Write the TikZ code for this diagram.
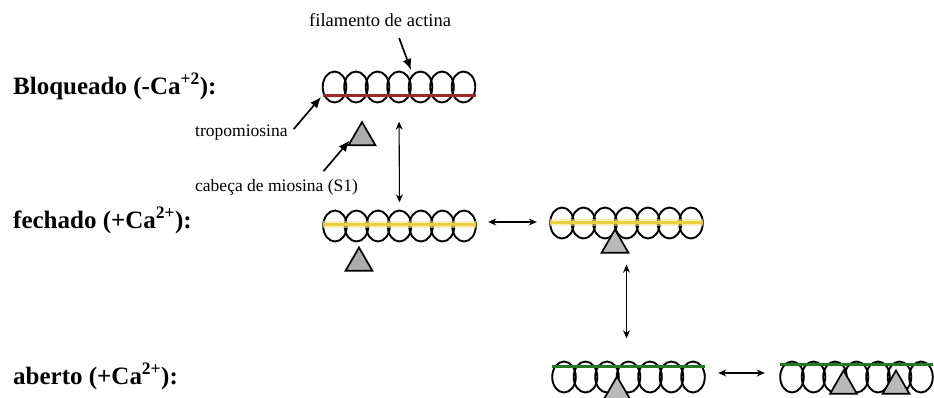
\documentclass[tikz,border=0pt]{standalone}
\usepackage{fontspec}
\setmainfont{Liberation Serif}
\usepackage{tikz}
\usetikzlibrary{shapes.geometric,arrows.meta}
\definecolor{tmred}{RGB}{156,40,40}
\definecolor{tmyellow}{RGB}{234,208,62}
\definecolor{tmgreen}{RGB}{36,122,36}

\begin{document}
\begin{tikzpicture}[x=1pt, y=-1pt,
  estado/.style={font=\fontsize{25}{27}\selectfont\bfseries, anchor=base west, inner sep=0},
  rotulo/.style={font=\fontsize{17.5}{20}\selectfont, anchor=base west, inner sep=0},
  filbox/.style={minimum width=153pt, minimum height=31pt, inner sep=0},
  globulo/.style={line width=1.9pt},
  linhaverm/.style={line width=3pt, tmred},
  linhaamar/.style={line width=3pt, tmyellow, preaction={draw, tmyellow!55, opacity=0.6, line width=7pt}},
  linhaverde/.style={line width=3pt, tmgreen},
  cabeca/.style={regular polygon, regular polygon sides=3, minimum size=31pt, inner sep=0, draw, line width=1.7pt, fill=gray!55},
  seta/.style={-{Latex[length=11pt,width=9pt]}, line width=1.7pt},
  troca/.style={{Stealth[length=8pt,width=7pt]}-{Stealth[length=8pt,width=7pt]}, line width=1.1pt}]

\useasboundingbox (0,0) rectangle (934,397);

\node[estado] (bloqlbl) at (13,94) {Bloqueado (-Ca\textsuperscript{+2}):};
\node[estado] (fechlbl) at (13,228) {fechado (+Ca\textsuperscript{2+}):};
\node[estado] (abrlbl) at (13,384) {aberto (+Ca\textsuperscript{2+}):};

\foreach \nm/\fx/\fy/\lin/\dy in {bloq/399/87/linhaverm/8, fechA/399.5/226/linhaamar/-2, fechB/626.5/223/linhaamar/-1, abrA/628.5/377/linhaverde/-11, abrB/856.5/377/linhaverde/-13} {
  \node[filbox] (\nm) at (\fx,\fy) {};
  \foreach \i in {0,...,6}
    \draw[globulo] (\fx-64.5+\i*21.5,\fy) ellipse [x radius=11.8, y radius=15.5];
  \draw[\lin] (\fx-76.5,\fy+\dy) -- (\fx+76.5,\fy+\dy);
}

\node[cabeca, fill=gray!65] (headA) at (362,137.5) {};
\node[cabeca, fill=gray!65] (headB) at (359,263) {};
\node[cabeca] (headC) at (615,245) {};
\node[cabeca] (headD) at (617,392) {};
\node[cabeca] (headE) at (843.5,386) {};
\node[cabeca] (headF) at (896,386) {};

\node[rotulo, font=\fontsize{18.5}{20}\selectfont] (actlbl) at (309,26.5) {filamento de actina};
\node[rotulo] (tropolbl) at (195,136) {tropomiosina};
\node[rotulo] (cablbl) at (195,191.5) {cabeça de miosina (S1)};

\coordinate (actpt) at (411,70);
\coordinate (tropopt) at (321,97);

\draw[seta] ([xshift=19pt,yshift=-11pt]actlbl.south) -- (actpt);
\draw[seta] ([xshift=6pt,yshift=3pt]tropolbl.east) -- (tropopt);
\draw[seta, shorten >=4pt] ([xshift=47pt,yshift=8pt]cablbl.north) -- (headA.west);

\draw[troca, shorten <=19pt, shorten >=8pt] (bloq.south) -- (fechA.north);
\draw[troca, shorten <=12pt, shorten >=13pt] ([yshift=4pt]fechA.east) -- ([yshift=4pt]fechA.east -| fechB.west);
\draw[troca, shorten <=26pt, shorten >=23pt] (fechB.south) -- (fechB.south |- abrA.north);
\draw[troca, shorten <=13pt, shorten >=15pt] ([yshift=4pt]abrA.east) -- ([yshift=4pt]abrA.east -| abrB.west);
\end{tikzpicture}
\end{document}
